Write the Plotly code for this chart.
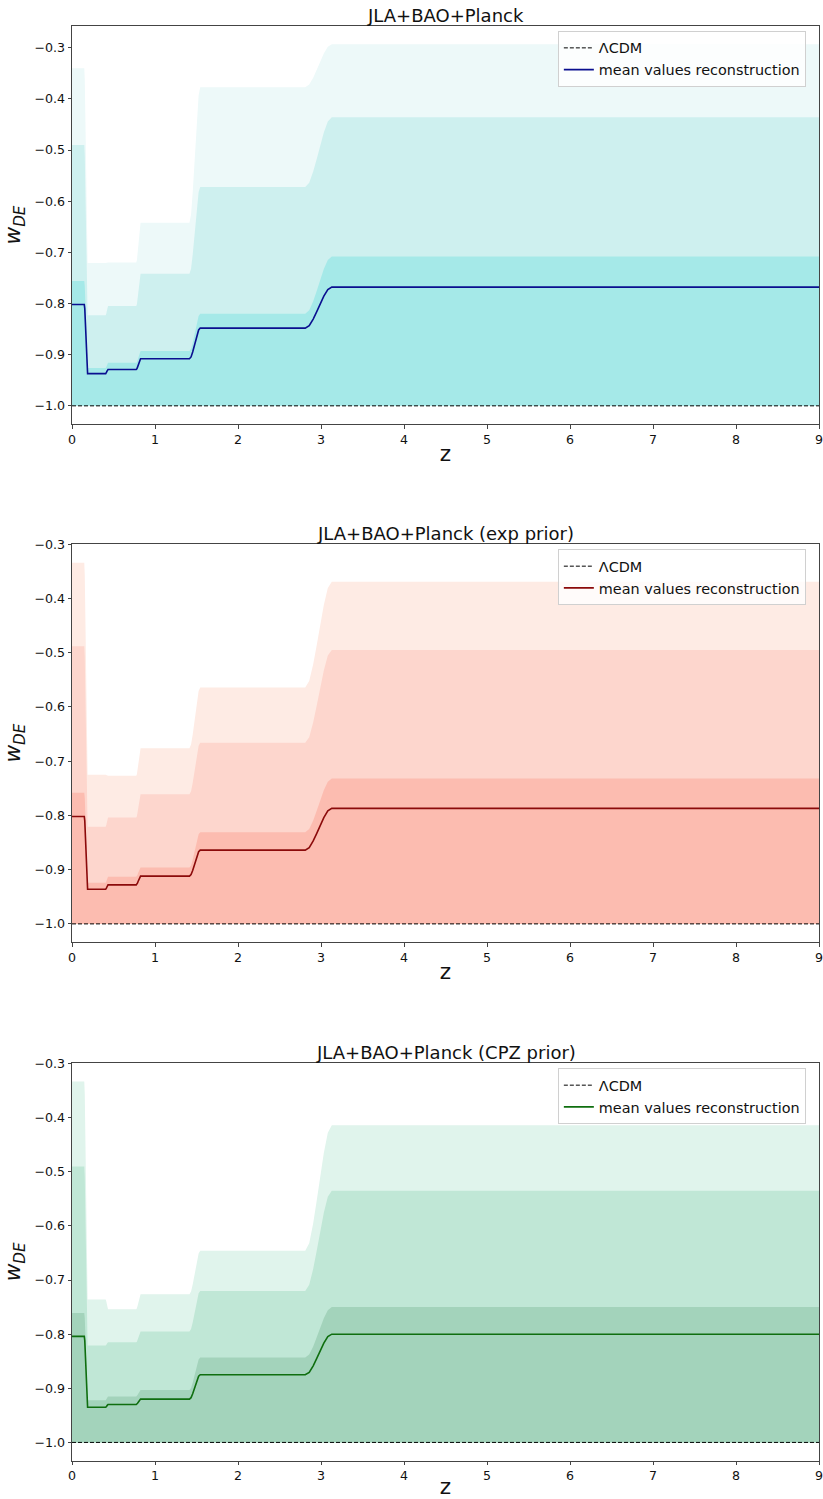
import plotly.graph_objects as go
from plotly.subplots import make_subplots

# ---------------- data ----------------
z_edges = [0.168, 0.42, 0.80, 1.48, 2.97]          # bin transition centres
edge_halfwidth = [0.02, 0.014, 0.026, 0.065, 0.16]  # half-width of each smooth transition
# shape of a transition (position in half-widths -> fraction of the jump)
profile_t = [-1.0, -0.7, -0.4, -0.15, 0.15, 0.4, 0.7, 1.0]
profile_f = [0.0, 0.06, 0.22, 0.39, 0.61, 0.78, 0.94, 1.0]
z_min, z_max = 0.0, 9.0
w_lcdm = -1.0
w_prior_low = -1.0

titles = ["JLA+BAO+Planck", "JLA+BAO+Planck (exp prior)", "JLA+BAO+Planck (CPZ prior)"]

# panel 1: JLA+BAO+Planck   (bin values: mean and upper edges of the three bands)
p1_mean = [-0.802, -0.937, -0.929, -0.908, -0.848, -0.768]
p1_up1 = [-0.756, -0.926, -0.916, -0.893, -0.820, -0.708]
p1_up2 = [-0.490, -0.823, -0.805, -0.742, -0.572, -0.436]
p1_up3 = [-0.340, -0.721, -0.720, -0.642, -0.377, -0.293]

# panel 2: exp prior
p2_mean = [-0.802, -0.936, -0.928, -0.912, -0.864, -0.787]
p2_up1 = [-0.758, -0.924, -0.913, -0.896, -0.831, -0.732]
p2_up2 = [-0.488, -0.821, -0.804, -0.761, -0.666, -0.495]
p2_up3 = [-0.334, -0.725, -0.727, -0.676, -0.564, -0.369]

# panel 3: CPZ prior
p3_mean = [-0.804, -0.935, -0.930, -0.920, -0.875, -0.800]
p3_up1 = [-0.761, -0.922, -0.915, -0.903, -0.843, -0.750]
p3_up2 = [-0.490, -0.821, -0.815, -0.795, -0.720, -0.535]
p3_up3 = [-0.333, -0.736, -0.754, -0.726, -0.646, -0.414]

x_ticks = [0, 1, 2, 3, 4, 5, 6, 7, 8, 9]
y_ticks = [-1.0, -0.9, -0.8, -0.7, -0.6, -0.5, -0.4, -0.3]
y_ticklabels = ["\u22121.0", "\u22120.9", "\u22120.8", "\u22120.7", "\u22120.6", "\u22120.5", "\u22120.4", "\u22120.3"]

# ---------------- styling ----------------
panels = [
    dict(mean=p1_mean, ups=[p1_up3, p1_up2, p1_up1],
         fills=["#edf9f9", "#cef0ef", "#a5e9e8"], line="#0a0f8f",
         yr=[-1.0355, -0.2575], px=(26, 424)),
    dict(mean=p2_mean, ups=[p2_up3, p2_up2, p2_up1],
         fills=["#feebe4", "#fdd6cd", "#fcbcb0"], line="#8b0a0a",
         yr=[-1.0334, -0.3], px=(544.3, 942)),
    dict(mean=p3_mean, ups=[p3_up3, p3_up2, p3_up1],
         fills=["#e0f4ec", "#c0e7d6", "#a3d3bb"], line="#0f6e0f",
         yr=[-1.0334, -0.2995], px=(1063.3, 1460.5)),
]

W, H = 823, 1499
ML, MR = 71.5, 3.5


def knots(levels):
    xs, ys = [z_min], [levels[0]]
    for i, (c, h) in enumerate(zip(z_edges, edge_halfwidth)):
        for t, f in zip(profile_t, profile_f):
            xs.append(c + t * h)
            ys.append(levels[i] + f * (levels[i + 1] - levels[i]))
    xs.append(z_max)
    ys.append(levels[-1])
    return xs, ys


fig = make_subplots(rows=3, cols=1)

FONT = "DejaVu Sans"
for k, p in enumerate(panels):
    row = k + 1
    leg = "legend" if k == 0 else f"legend{k + 1}"
    for up, col in zip(p["ups"], p["fills"]):
        fig.add_trace(go.Scatter(x=[z_min, z_max], y=[w_prior_low, w_prior_low], mode="lines",
                                 line=dict(width=0, color=col), showlegend=False, hoverinfo="skip"),
                      row=row, col=1)
        bx, by = knots(up)
        fig.add_trace(go.Scatter(x=bx, y=by, mode="lines", fill="tonexty", fillcolor=col,
                                 line=dict(width=0, color=col),
                                 showlegend=False, hoverinfo="skip"),
                      row=row, col=1)
    fig.add_trace(go.Scatter(x=[z_min, z_max], y=[w_lcdm, w_lcdm], mode="lines",
                             line=dict(color="black", width=1, dash="4px,2px"),
                             name="\u039bCDM", legend=leg),
                  row=row, col=1)
    mx, my = knots(p["mean"])
    fig.add_trace(go.Scatter(x=mx, y=my, mode="lines",
                             line=dict(color=p["line"], width=1.6),
                             name="mean values reconstruction", legend=leg),
                  row=row, col=1)

axis_common = dict(showline=True, linecolor="#444", linewidth=1, mirror=True,
                   ticks="outside", ticklen=3.5, tickwidth=1, tickcolor="#444",
                   showgrid=False, zeroline=False, automargin=False,
                   ticklabeloverflow="allow",
                   tickfont=dict(family=FONT, size=12.6, color="#111"))

layout = dict(width=W, height=H, margin=dict(l=ML, r=MR, t=0, b=0),
              paper_bgcolor="white", plot_bgcolor="white",
              font=dict(family=FONT, color="#111"), annotations=[])

for k, p in enumerate(panels):
    sfx = "" if k == 0 else str(k + 1)
    top_px, bot_px = p["px"]
    dom = [1 - bot_px / H, 1 - top_px / H]
    layout["xaxis" + sfx] = dict(axis_common, range=[z_min, z_max], tickvals=x_ticks,
                                 title=dict(text="z", font=dict(family=FONT, size=21.6), standoff=0))
    layout["yaxis" + sfx] = dict(axis_common, range=p["yr"], domain=dom, tickvals=y_ticks,
                                 ticktext=y_ticklabels,
                                 title=dict(text="<i>w</i><sub><i>DE</i></sub>",
                                            font=dict(family=FONT, size=21.6), standoff=7))
    leg = "legend" if k == 0 else f"legend{k + 1}"
    layout[leg] = dict(x=(558 - ML) / (W - ML - MR), y=1 - (top_px + 5) / H,
                       xanchor="left", yanchor="top", traceorder="normal",
                       bgcolor="rgba(255,255,255,0.8)", bordercolor="#d0d0d0", borderwidth=1,
                       font=dict(family=FONT, size=14.4, color="#111"))
    layout["annotations"].append(dict(text=titles[k], xref="paper", yref="paper",
                                      x=0.5, y=1 - (top_px + 2) / H, xanchor="center",
                                      yanchor="bottom", showarrow=False,
                                      font=dict(family=FONT, size=18, color="#111")))

fig.update_layout(**layout)
fig.write_html("out.html", config={"displayModeBar": False},
               post_script="document.body.style.margin='0px';document.body.style.overflow='hidden';")
